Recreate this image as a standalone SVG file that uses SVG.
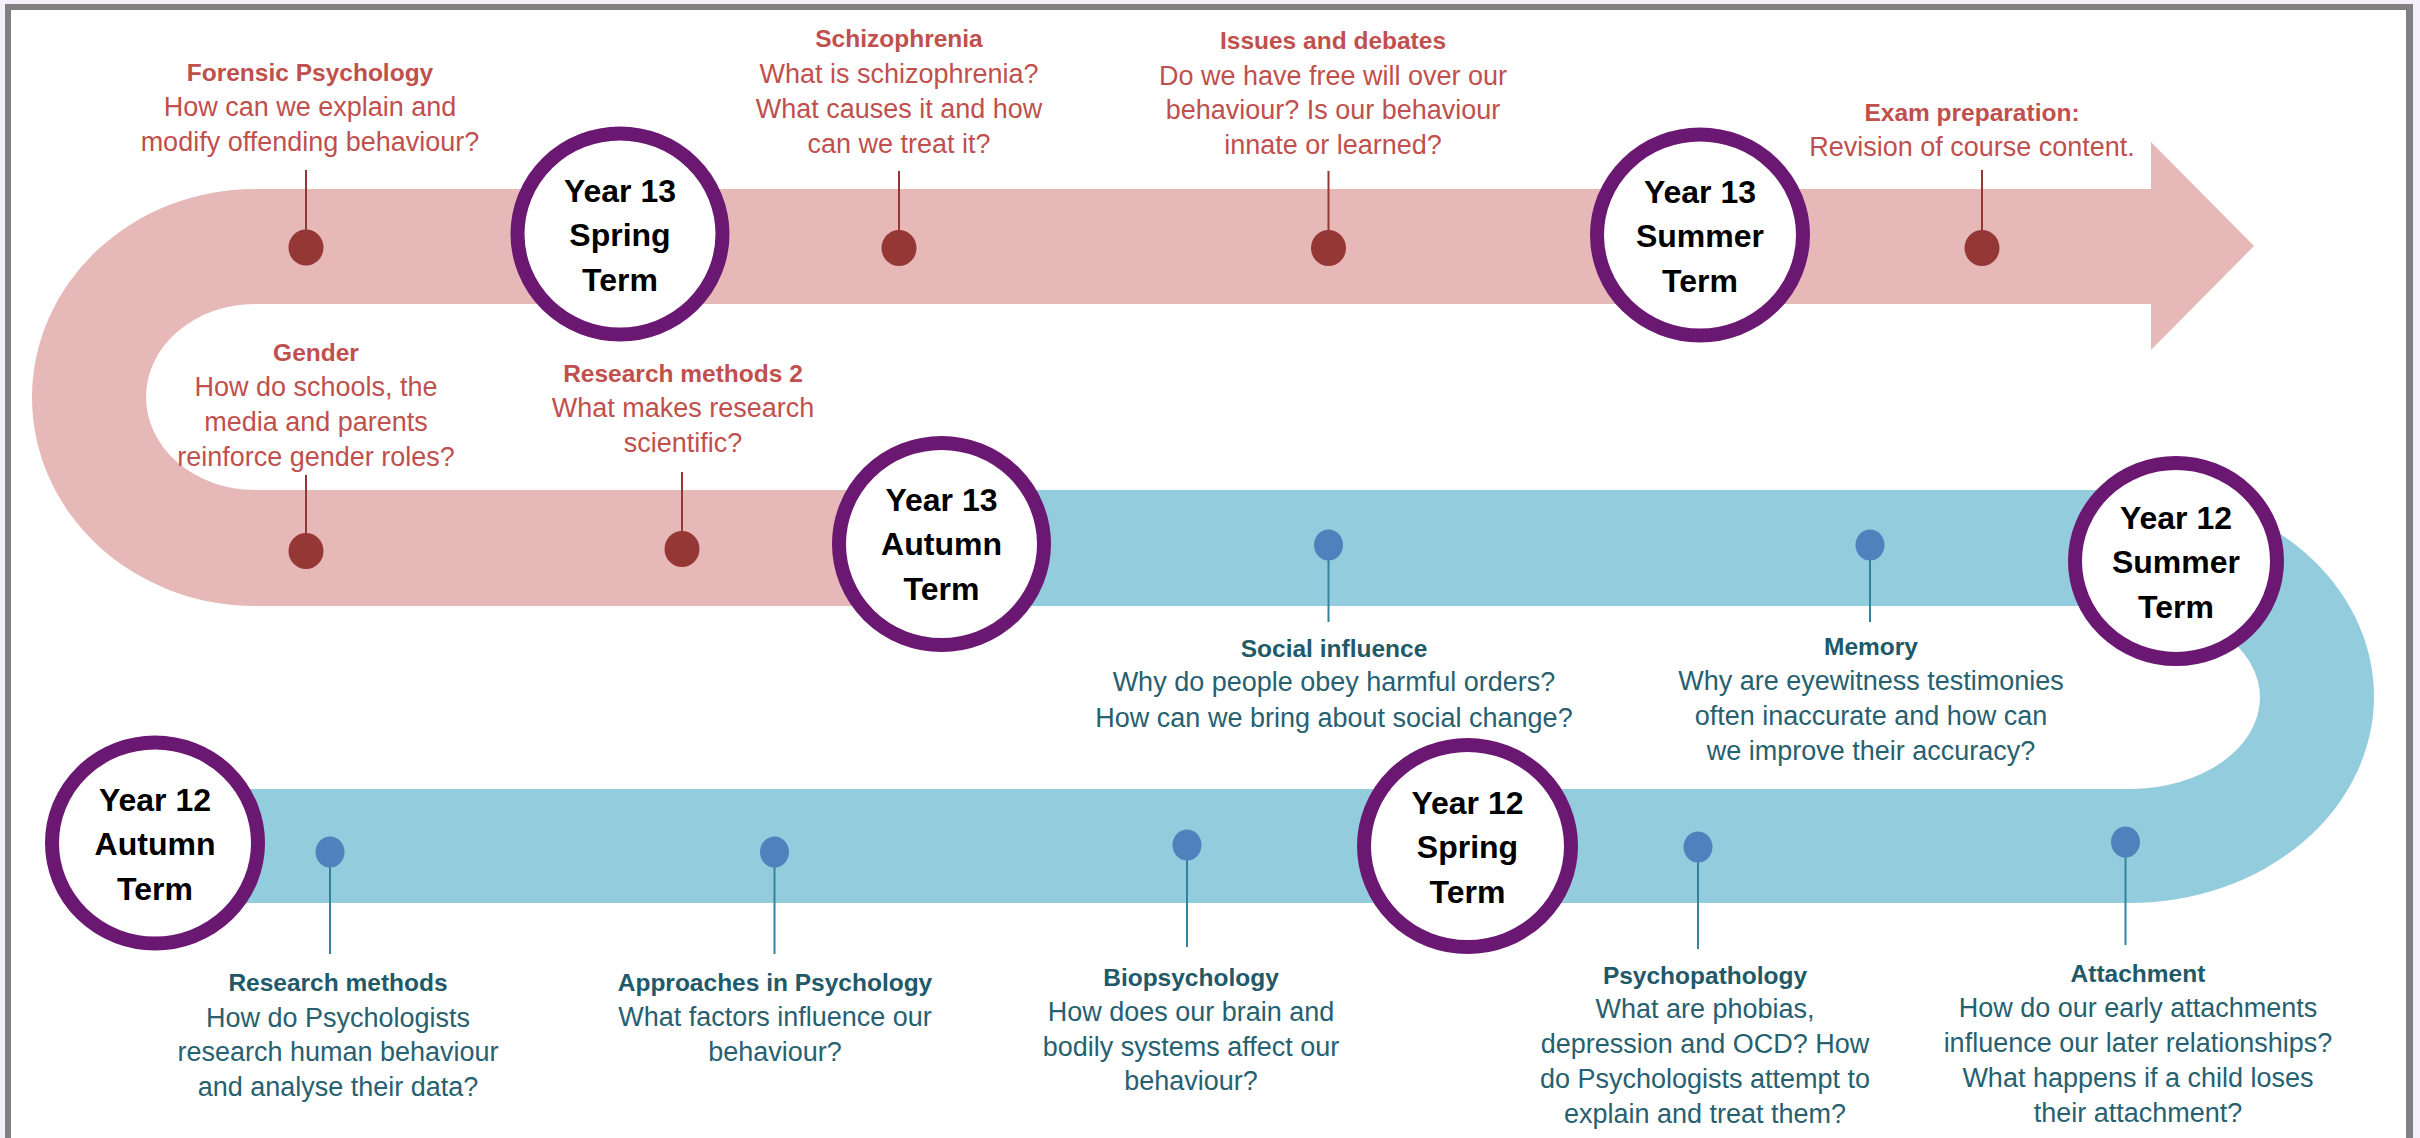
<svg xmlns="http://www.w3.org/2000/svg" width="2420" height="1138" viewBox="0 0 2420 1138">
<style>
.t{font-family:"Liberation Sans",Arial,sans-serif;text-anchor:middle}
.rt{fill:#C0504D;font-size:24.5px;font-weight:bold}
.rb{fill:#C0504D;font-size:27px}
.bt{fill:#215968;font-size:24.5px;font-weight:bold}
.bb{fill:#27606F;font-size:27px}
.term{fill:#000;font-size:32px;font-weight:bold}
.ring{fill:#fff;stroke:#6B1872;stroke-width:14}
.rdot{fill:#953735}
.bdot{fill:#4F81BD}
.rl{stroke:#953735;stroke-width:2}
.bl{stroke:#31849B;stroke-width:2}
</style>
<rect x="0" y="0" width="2420" height="1138" fill="#F3EFFB"/>
<rect x="11" y="10" width="2395" height="1128" fill="#fff"/>
<rect x="5" y="4" width="6" height="1134" fill="#808080"/>
<rect x="5" y="4" width="2408" height="6" fill="#808080"/>
<rect x="2406" y="4" width="7" height="1134" fill="#808080"/>

<g id="bands">
<path id="pink-band" fill="#E6B9B8" d="M255 189 L2151 189 L2151 142 L2254 246 L2151 350 L2151 304 L255 304 A109 93 0 0 0 255 490 L941 490 L941 606 L255 606 A223 208.5 0 0 1 255 189 Z"/>
<path id="blue-band" fill="#93CDDD" d="M941 490 L2130 490 A244 206.5 0 0 1 2130 903 L160 903 L160 789 L2130 789 A130 91.5 0 0 0 2130 606 L941 606 Z"/>
</g>

<g id="connectors">
<line class="rl" x1="306" y1="170" x2="306" y2="247"/>
<line class="rl" x1="899" y1="171" x2="899" y2="248"/>
<line class="rl" x1="1328.5" y1="171" x2="1328.5" y2="248"/>
<line class="rl" x1="1982" y1="170" x2="1982" y2="248"/>
<line class="rl" x1="306" y1="475" x2="306" y2="551"/>
<line class="rl" x1="682" y1="472" x2="682" y2="549"/>
<line class="bl" x1="1328.5" y1="545" x2="1328.5" y2="622"/>
<line class="bl" x1="1870" y1="545" x2="1870" y2="622"/>
<line class="bl" x1="330" y1="852" x2="330" y2="954"/>
<line class="bl" x1="774.5" y1="852" x2="774.5" y2="954"/>
<line class="bl" x1="1187" y1="845" x2="1187" y2="947"/>
<line class="bl" x1="1698" y1="847" x2="1698" y2="949"/>
<line class="bl" x1="2125.5" y1="842" x2="2125.5" y2="945"/>
</g>

<g id="forensic">
<ellipse class="rdot" cx="306" cy="247.5" rx="17.5" ry="18"/>
<text class="t rt" x="310" y="81">Forensic Psychology</text>
<text class="t rb" x="310" y="116">How can we explain and</text>
<text class="t rb" x="310" y="151">modify offending behaviour?</text>
</g>
<g id="schizophrenia">
<ellipse class="rdot" cx="899" cy="248" rx="17.5" ry="18"/>
<text class="t rt" x="899" y="47">Schizophrenia</text>
<text class="t rb" x="899" y="83">What is schizophrenia?</text>
<text class="t rb" x="899" y="118">What causes it and how</text>
<text class="t rb" x="899" y="153">can we treat it?</text>
</g>
<g id="issues">
<ellipse class="rdot" cx="1328.5" cy="248" rx="17.5" ry="18"/>
<text class="t rt" x="1333" y="49">Issues and debates</text>
<text class="t rb" x="1333" y="85">Do we have free will over our</text>
<text class="t rb" x="1333" y="119">behaviour? Is our behaviour</text>
<text class="t rb" x="1333" y="154">innate or learned?</text>
</g>
<g id="exam">
<ellipse class="rdot" cx="1982" cy="248" rx="17.5" ry="18"/>
<text class="t rt" x="1972" y="121">Exam preparation:</text>
<text class="t rb" x="1972" y="156">Revision of course content.</text>
</g>
<g id="gender">
<ellipse class="rdot" cx="306" cy="551" rx="17.5" ry="18"/>
<text class="t rt" x="316" y="361">Gender</text>
<text class="t rb" x="316" y="396">How do schools, the</text>
<text class="t rb" x="316" y="431">media and parents</text>
<text class="t rb" x="316" y="466">reinforce gender roles?</text>
</g>
<g id="research-methods-2">
<ellipse class="rdot" cx="682" cy="549" rx="17.5" ry="18"/>
<text class="t rt" x="683" y="382">Research methods 2</text>
<text class="t rb" x="683" y="417">What makes research</text>
<text class="t rb" x="683" y="452">scientific?</text>
</g>

<g id="social-influence">
<ellipse class="bdot" cx="1328.5" cy="545" rx="14.5" ry="15.5"/>
<text class="t bt" x="1334" y="657">Social influence</text>
<text class="t bb" x="1334" y="691">Why do people obey harmful orders?</text>
<text class="t bb" x="1334" y="727">How can we bring about social change?</text>
</g>
<g id="memory">
<ellipse class="bdot" cx="1870" cy="545" rx="14.5" ry="15.5"/>
<text class="t bt" x="1871" y="655">Memory</text>
<text class="t bb" x="1871" y="690">Why are eyewitness testimonies</text>
<text class="t bb" x="1871" y="725">often inaccurate and how can</text>
<text class="t bb" x="1871" y="760">we improve their accuracy?</text>
</g>
<g id="research-methods">
<ellipse class="bdot" cx="330" cy="852" rx="14.5" ry="15.5"/>
<text class="t bt" x="338" y="991">Research methods</text>
<text class="t bb" x="338" y="1027">How do Psychologists</text>
<text class="t bb" x="338" y="1061">research human behaviour</text>
<text class="t bb" x="338" y="1096">and analyse their data?</text>
</g>
<g id="approaches">
<ellipse class="bdot" cx="774.5" cy="852" rx="14.5" ry="15.5"/>
<text class="t bt" x="775" y="991">Approaches in Psychology</text>
<text class="t bb" x="775" y="1026">What factors influence our</text>
<text class="t bb" x="775" y="1061">behaviour?</text>
</g>
<g id="biopsychology">
<ellipse class="bdot" cx="1187" cy="845" rx="14.5" ry="15.5"/>
<text class="t bt" x="1191" y="986">Biopsychology</text>
<text class="t bb" x="1191" y="1021">How does our brain and</text>
<text class="t bb" x="1191" y="1056">bodily systems affect our</text>
<text class="t bb" x="1191" y="1090">behaviour?</text>
</g>
<g id="psychopathology">
<ellipse class="bdot" cx="1698" cy="847" rx="14.5" ry="15.5"/>
<text class="t bt" x="1705" y="984">Psychopathology</text>
<text class="t bb" x="1705" y="1018">What are phobias,</text>
<text class="t bb" x="1705" y="1053">depression and OCD? How</text>
<text class="t bb" x="1705" y="1088">do Psychologists attempt to</text>
<text class="t bb" x="1705" y="1123">explain and treat them?</text>
</g>
<g id="attachment">
<ellipse class="bdot" cx="2125.5" cy="842" rx="14.5" ry="15.5"/>
<text class="t bt" x="2138" y="982">Attachment</text>
<text class="t bb" x="2138" y="1017">How do our early attachments</text>
<text class="t bb" x="2138" y="1052">influence our later relationships?</text>
<text class="t bb" x="2138" y="1087">What happens if a child loses</text>
<text class="t bb" x="2138" y="1122">their attachment?</text>
</g>

<g id="y13-spring">
<ellipse class="ring" cx="620" cy="234" rx="102.5" ry="100.5"/>
<text class="t term" x="620" y="202">Year 13</text>
<text class="t term" x="620" y="246">Spring</text>
<text class="t term" x="620" y="291">Term</text>
</g>
<g id="y13-summer">
<ellipse class="ring" cx="1700" cy="235" rx="103" ry="100.5"/>
<text class="t term" x="1700" y="203">Year 13</text>
<text class="t term" x="1700" y="247">Summer</text>
<text class="t term" x="1700" y="292">Term</text>
</g>
<g id="y13-autumn">
<ellipse class="ring" cx="941.5" cy="544" rx="102.5" ry="101"/>
<text class="t term" x="941.5" y="511">Year 13</text>
<text class="t term" x="941.5" y="555">Autumn</text>
<text class="t term" x="941.5" y="600">Term</text>
</g>
<g id="y12-summer">
<ellipse class="ring" cx="2176" cy="561" rx="101" ry="98"/>
<text class="t term" x="2176" y="529">Year 12</text>
<text class="t term" x="2176" y="573">Summer</text>
<text class="t term" x="2176" y="618">Term</text>
</g>
<g id="y12-spring">
<ellipse class="ring" cx="1467.5" cy="846" rx="103.5" ry="101"/>
<text class="t term" x="1467.5" y="814">Year 12</text>
<text class="t term" x="1467.5" y="858">Spring</text>
<text class="t term" x="1467.5" y="903">Term</text>
</g>
<g id="y12-autumn">
<ellipse class="ring" cx="155" cy="843" rx="103" ry="100.5"/>
<text class="t term" x="155" y="811">Year 12</text>
<text class="t term" x="155" y="855">Autumn</text>
<text class="t term" x="155" y="900">Term</text>
</g>
</svg>
